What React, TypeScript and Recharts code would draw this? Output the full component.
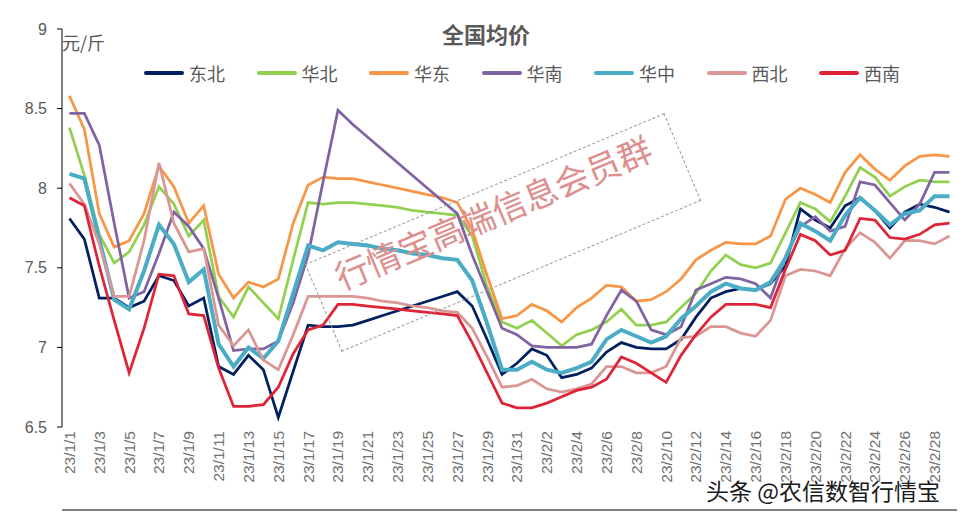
import React from "react";
import { LineChart, Line, XAxis, YAxis } from "recharts";

const dates = [
  "23/1/1","23/1/2","23/1/3","23/1/4","23/1/5","23/1/6","23/1/7","23/1/8","23/1/9","23/1/10",
  "23/1/11","23/1/12","23/1/13","23/1/14","23/1/15","23/1/16","23/1/17","23/1/18","23/1/19","23/1/20",
  "23/1/21","23/1/22","23/1/23","23/1/24","23/1/25","23/1/26","23/1/27","23/1/28","23/1/29","23/1/30",
  "23/1/31","23/2/1","23/2/2","23/2/3","23/2/4","23/2/5","23/2/6","23/2/7","23/2/8","23/2/9",
  "23/2/10","23/2/11","23/2/12","23/2/13","23/2/14","23/2/15","23/2/16","23/2/17","23/2/18","23/2/19",
  "23/2/20","23/2/21","23/2/22","23/2/23","23/2/24","23/2/25","23/2/26","23/2/27","23/2/28","23/3/1",
];

const dongbei = [7.81,7.68,7.31,7.31,7.25,7.29,7.45,7.42,7.26,7.31, 6.88,6.83,6.95,6.86,6.56,6.85,7.14,7.13,7.13,7.14, 7.17,7.20,7.23,7.26,7.29,7.32,7.35,7.26,7.05,6.83, 6.90,6.99,6.95,6.81,6.83,6.87,6.97,7.03,7.00,6.99, 6.99,7.05,7.19,7.31,7.35,7.37,7.36,7.40,7.51,7.87, 7.80,7.75,7.89,7.94,7.86,7.75,7.85,7.90,7.88,7.85];
const huabei = [8.38,8.08,7.71,7.53,7.60,7.77,8.01,7.90,7.70,7.80, 7.32,7.19,7.38,7.28,7.18,7.55,7.91,7.90,7.91,7.91, 7.90,7.89,7.88,7.86,7.85,7.84,7.83,7.70,7.38,7.16, 7.12,7.17,7.09,7.01,7.08,7.11,7.16,7.24,7.14,7.14, 7.16,7.25,7.34,7.48,7.58,7.52,7.50,7.53,7.72,7.91, 7.87,7.79,7.95,8.13,8.07,7.95,8.01,8.05,8.04,8.04];
const huadong = [8.58,8.37,7.84,7.63,7.67,7.84,8.14,8.01,7.78,7.89, 7.46,7.31,7.41,7.38,7.43,7.78,8.02,8.07,8.06,8.06, 8.04,8.02,8.00,7.98,7.96,7.94,7.91,7.74,7.45,7.18, 7.20,7.27,7.23,7.16,7.25,7.31,7.39,7.38,7.29,7.30, 7.35,7.43,7.55,7.61,7.66,7.65,7.65,7.70,7.93,8.00, 7.96,7.91,8.10,8.21,8.12,8.05,8.14,8.20,8.21,8.20];
const huanan = [8.47,8.47,8.27,7.78,7.31,7.35,7.59,7.85,7.76,7.62, 7.31,6.98,6.99,6.99,7.04,7.28,7.58,8.04,8.49,8.40, 8.32,8.24,8.16,8.08,8.00,7.92,7.84,7.58,7.35,7.12, 7.08,7.01,7.00,7.00,7.00,7.02,7.20,7.36,7.29,7.11, 7.08,7.13,7.36,7.40,7.44,7.43,7.40,7.31,7.57,7.76, 7.82,7.73,7.76,8.04,8.02,7.91,7.80,7.90,8.10,8.10];
const huazhong = [8.09,8.06,7.68,7.30,7.24,7.48,7.77,7.65,7.41,7.49, 7.02,6.88,7.00,6.93,7.04,7.34,7.64,7.61,7.66,7.65, 7.64,7.62,7.61,7.59,7.58,7.56,7.55,7.42,7.15,6.86, 6.86,6.91,6.86,6.84,6.87,6.91,7.05,7.11,7.07,7.03, 7.07,7.18,7.26,7.35,7.40,7.37,7.36,7.41,7.56,7.78, 7.73,7.67,7.83,7.94,7.86,7.77,7.84,7.86,7.95,7.95];
const xibei = [8.03,7.90,7.65,7.32,7.32,7.67,8.16,7.78,7.60,7.62, 7.14,7.01,7.11,6.92,6.86,7.08,7.32,7.32,7.32,7.32, 7.31,7.29,7.28,7.26,7.25,7.23,7.22,7.12,6.94,6.75, 6.76,6.80,6.74,6.72,6.74,6.77,6.88,6.88,6.84,6.84, 6.88,7.06,7.07,7.13,7.13,7.09,7.07,7.17,7.45,7.49, 7.48,7.45,7.62,7.72,7.66,7.56,7.67,7.67,7.65,7.70];
const xinan = [7.94,7.89,7.51,7.17,6.84,7.12,7.46,7.45,7.21,7.20, 6.87,6.63,6.63,6.64,6.75,6.96,7.11,7.14,7.27,7.27, 7.26,7.25,7.24,7.23,7.22,7.21,7.20,7.03,6.84,6.65, 6.62,6.62,6.65,6.69,6.73,6.75,6.80,6.94,6.90,6.84, 6.78,6.95,7.08,7.19,7.27,7.27,7.27,7.25,7.49,7.71, 7.67,7.58,7.61,7.81,7.80,7.69,7.68,7.71,7.77,7.78];

const yTicks = [6.5, 7, 7.5, 8, 8.5, 9];

const series = [
  { key: "东北", values: dongbei, color: "#002060", width: 2.75 },
  { key: "华北", values: huabei, color: "#92D050", width: 2.75 },
  { key: "华东", values: huadong, color: "#F79646", width: 2.75 },
  { key: "华南", values: huanan, color: "#8064A2", width: 2.75 },
  { key: "华中", values: huazhong, color: "#4BACC6", width: 4 },
  { key: "西北", values: xibei, color: "#DA9694", width: 2.75 },
  { key: "西南", values: xinan, color: "#DE2538", width: 2.75 },
];

const rows = dates.map((d, i) => {
  const r: any = { idx: i, date: d };
  series.forEach((s) => (r[s.key] = s.values[i]));
  return r;
});

const labelTicks = dates.map((_, i) => i).filter((i) => i % 2 === 0);
const markTicks = Array.from({ length: 31 }, (_, k) => -0.5 + 2 * k);

const CJK = '"Noto Sans CJK SC", "Noto Sans", sans-serif';
const LAT = '"Liberation Sans", Arial, sans-serif';

const LabelTick = (props: any) => {
  const { x, y, payload } = props;
  return (
    <g transform={`translate(${x},${y})`}>
      <text
        transform="rotate(-90)"
        x={0}
        y={0}
        dy="0.35em"
        textAnchor="end"
        fill="#707070"
        fontSize={15.5}
        fontFamily={LAT}
      >
        {dates[payload.value]}
      </text>
    </g>
  );
};

export default function App() {
  return (
    <div style={{ position: "absolute", left: 0, top: 0, width: 972, height: 516, background: "#fff", overflow: "hidden" }}>
      <LineChart
        width={972}
        height={516}
        data={rows}
        margin={{ top: 29, right: 15, bottom: 0, left: 0 }}
        style={{ fontFamily: LAT }}
      >
        <XAxis
          xAxisId="mark"
          dataKey="idx"
          type="number"
          domain={[-0.5, 59.5]}
          allowDataOverflow
          ticks={markTicks}
          interval={0}
          tick={false}
          tickSize={5}
          height={6}
          axisLine={{ stroke: "#000", strokeWidth: 1 }}
          tickLine={{ stroke: "#000", strokeWidth: 1 }}
        />
        <XAxis
          xAxisId="lab"
          dataKey="idx"
          type="number"
          domain={[-0.5, 59.5]}
          allowDataOverflow
          ticks={labelTicks}
          interval={0}
          tick={<LabelTick />}
          tickLine={false}
          axisLine={false}
          tickSize={0}
          tickMargin={4}
          height={83}
        />
        <YAxis
          domain={[6.5, 9]}
          ticks={yTicks}
          allowDataOverflow
          interval={0}
          width={62}
          tickSize={5}
          tickMargin={10}
          axisLine={{ stroke: "#000", strokeWidth: 1 }}
          tickLine={{ stroke: "#000", strokeWidth: 1 }}
          tick={{ fill: "#595959", fontSize: 16, fontFamily: LAT }}
        />
        {series.map((s) => (
          <Line
            key={s.key}
            xAxisId="mark"
            type="linear"
            dataKey={s.key}
            stroke={s.color}
            strokeWidth={s.width}
            dot={false}
            activeDot={false}
            isAnimationActive={false}
          />
        ))}
      </LineChart>

      {/* title */}
      <div style={{ position: "absolute", left: 0, width: 972, top: 17, textAlign: "center", fontFamily: CJK, fontWeight: 700, fontSize: 22, color: "#595959", lineHeight: "32px" }}>
        全国均价
      </div>
      {/* unit */}
      <div style={{ position: "absolute", left: 62, top: 29, fontFamily: CJK, fontSize: 18, color: "#595959", lineHeight: "26px" }}>
        元/斤
      </div>
      {/* legend */}
      {series.map((s, i) => (
        <div key={s.key} style={{ position: "absolute", left: 144 + i * 112.5, top: 60, height: 26, display: "flex", alignItems: "center", fontFamily: CJK, fontSize: 18, color: "#595959" }}>
          <span style={{ display: "inline-block", width: 40, height: 4, borderRadius: 2, background: s.color, marginRight: 5 }} />
          <span>{s.key}</span>
        </div>
      ))}
      {/* watermark */}
      <div style={{ position: "absolute", left: 307.5, top: 184.5, width: 390, height: 95, border: "1.5px dashed #999", transform: "rotate(-22.8deg)", boxSizing: "border-box" }} />
      <div style={{ position: "absolute", left: 493 - 210, top: 212 - 24, width: 420, height: 48, textAlign: "center", lineHeight: "48px", transform: "rotate(-22.8deg)", fontFamily: CJK, fontSize: 34, color: "#dd8e8e", whiteSpace: "nowrap" }}>
        行情宝高端信息会员群
      </div>
      <div style={{ position: "absolute", left: 706, top: 474, fontFamily: CJK, fontSize: 23, color: "#1a1a1a", whiteSpace: "nowrap", lineHeight: "32px", textShadow: "0 0 2px #fff, 0 0 2px #fff, 1px 1px 1px #fff, -1px -1px 1px #fff" }}>
        头条 @农信数智行情宝
      </div>
    </div>
  );
}
